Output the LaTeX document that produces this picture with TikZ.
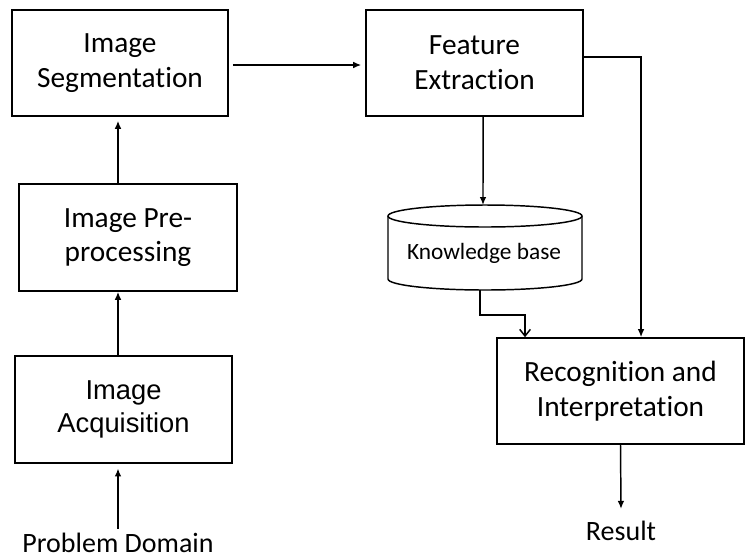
\documentclass[tikz,border=0pt]{standalone}
\usepackage{fontspec}
\setmainfont{Carlito}[Ligatures=NoCommon]
\newfontfamily\arialf{Liberation Sans}
\usetikzlibrary{arrows.meta}
\begin{document}
\begin{tikzpicture}[x=0.75pt,y=-0.75pt,
  box/.style={draw, line width=1.2pt, align=center, inner sep=0pt, font=\fontsize{22}{26}\selectfont},
  plain/.style={inner sep=0pt, font=\fontsize{21}{25}\selectfont},
  arr/.style={line width=1.1pt, -{Latex[length=6pt,width=5pt]}},
  barb/.style={line width=1.1pt, -{Straight Barb[length=5pt,width=8pt]}},
  cyl/.style={line width=1.1pt, fill=white}]
\useasboundingbox (0,0) rectangle (745,558);

\node[box, minimum width=162pt, minimum height=79.5pt] (seg) at (120,63) {Image\\Segmentation};
\node[box, minimum width=163.5pt, minimum height=80.25pt] (pre) at (128,237.5) {Image Pre-\\processing};
\node[box, minimum width=162.75pt, minimum height=80.25pt, font=\arialf\fontsize{20.5}{25}\selectfont] (acq) at (123.5,409.5) {Image\\Acquisition};
\node[box, minimum width=162.75pt, minimum height=79.5pt] (feat) at (474.5,63) {Feature\\Extraction};
\node[box, minimum width=185.25pt, minimum height=79.5pt] (rec) at (620.5,391) {Recognition and\\Interpretation};
\node[plain] (pd) at (118,543) {Problem Domain};
\node[plain] (res) at (621,531) {Result};

% cylinder (knowledge base)
\draw[cyl] (388,216) -- (388,279) arc[start angle=180, end angle=360, x radius=72.75pt, y radius=8.25pt] -- (582,216);
\draw[cyl] (485,216) ellipse [x radius=72.75pt, y radius=8.25pt];
\node[inner sep=0pt, font=\fontsize{17.5}{20}\selectfont] (kb) at (484,253) {Knowledge base};
\coordinate (kbtop) at (483,205);
\coordinate (kbbot) at (480,290);

% connectors
\draw[arr] ([yshift=3pt]pd.north) -- ([yshift=-3.5pt]pd |- acq.south);
\draw[arr] (acq.north -| pd) -- (pd |- pre.south);
\draw[arr] (pre.north -| pd) -- ([yshift=-3pt]pd |- seg.south);
\draw[arr] ([xshift=3pt,yshift=-1.5pt]seg.east) -- ([xshift=-3pt,yshift=-1.5pt]seg.east -| feat.west);
\draw[arr] ([xshift=6.4pt]feat.south) -- (kbtop);
\draw[arr] ([yshift=4.5pt]feat.east) -| ([xshift=15.4pt]rec.north);
\draw[barb] (kbbot) -- ++(0,25) -| ([xshift=-71.6pt]rec.north);
\draw[arr] (rec.south) -- ([yshift=9pt]res.north);
\end{tikzpicture}
\end{document}
